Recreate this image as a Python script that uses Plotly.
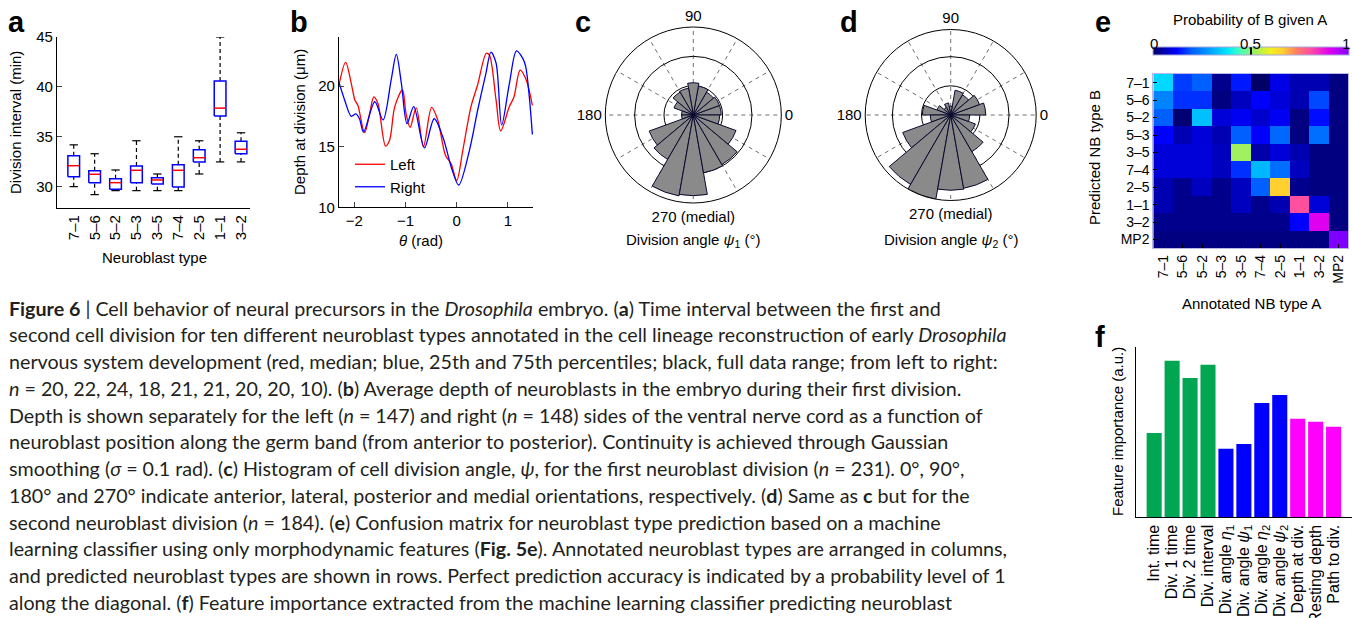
import plotly.graph_objects as go

W, H = 1353, 618
def fx(p): return p / W
def fy(p): return 1 - p / H

FONT = "Liberation Sans, Arial, Helvetica, sans-serif"
CAPFONT = "Lato, Open Sans, sans-serif"

# ---------------- Panel a data ----------------
nb_types_a = ["7–1", "5–6", "5–2", "5–3", "3–5", "7–4", "2–5", "1–1", "3–2"]
a_min = [30.0, 29.2, 29.6, 29.6, 29.6, 29.6, 31.27, 32.48, 32.48]
a_q1 = [31.0, 30.4, 29.73, 30.4, 30.27, 29.97, 32.48, 37.07, 33.3]
a_med = [32.1, 31.24, 30.4, 31.64, 30.67, 31.64, 32.9, 37.87, 33.75]
a_q3 = [33.1, 31.6, 30.8, 32.08, 30.9, 32.2, 33.7, 40.6, 34.56]
a_max = [34.19, 33.3, 31.67, 34.6, 31.27, 35.0, 34.6, 45.0, 35.4]

# ---------------- Panel b data ----------------
b_left_theta = [-2.305, -2.17, -2.06, -1.99, -1.93, -1.8, -1.7, -1.62, -1.54, -1.39, -1.31, -1.21,
                -1.06, -0.99, -0.91, -0.79, -0.65, -0.49, -0.37, -0.22, -0.11, 0.0, 0.12, 0.28,
                0.41, 0.58, 0.64, 0.77, 0.86, 1.03, 1.12, 1.24, 1.35, 1.48]
b_left_depth = [20.0, 21.95, 20.2, 18.85, 18.4, 16.15, 17.75, 19.1, 18.57, 15.05, 15.55, 18.3,
                19.67, 17.75, 16.6, 18.2, 15.0, 18.24, 17.2, 14.3, 13.6, 12.2, 14.7, 18.3,
                20.1, 22.7, 22.55, 18.85, 16.3, 18.3, 19.1, 21.3, 20.6, 18.4]
b_right_theta = [-2.305, -2.19, -2.06, -1.97, -1.9, -1.82, -1.6, -1.44, -1.28, -1.18, -1.08, -0.97,
                 -0.84, -0.63, -0.44, -0.27, -0.09, 0.04, 0.25, 0.41, 0.57, 0.67, 0.77, 0.88,
                 1.03, 1.17, 1.29, 1.35, 1.42, 1.48]
b_right_depth = [20.35, 18.85, 17.5, 17.7, 17.3, 16.2, 18.7, 17.2, 20.5, 22.6, 20.2, 16.9,
                 18.3, 14.9, 17.3, 15.8, 13.1, 11.84, 14.7, 18.0, 21.0, 22.8, 21.9, 16.8,
                 20.2, 22.9, 22.3, 21.6, 19.1, 16.0]

# ---------------- Panels c, d data ----------------
rose_theta = [10, 30, 50, 70, 90, 110, 130, 150, 170, 190, 210, 230, 250, 270, 290, 310, 330, 350]
c_counts = [9.5, 9.5, 9, 10, 11, 9.3, 9, 7, 4, 4, 16, 17.5, 28, 27.5, 20, 19.5, 15.5, 9]
d_counts = [12, 10.5, 8, 8.6, 3, 4.2, 3, 5, 9.7, 7, 17.5, 27.5, 29.3, 25.8, 25.5, 14.5, 9, 6.5]
angle_ticks = [0, 30, 60, 90, 120, 150, 180, 210, 240, 270, 300, 330]
angle_labels = ["0", " ", " ", "90", " ", " ", "180", " ", " ", "270 (medial)", " ", " "]

# ---------------- Panel e data ----------------
nb_types_e = ["7–1", "5–6", "5–2", "5–3", "3–5", "7–4", "2–5", "1–1", "3–2", "MP2"]
conf = [
    [0.36, 0.17, 0.20, 0.03, 0.14, 0.00, 0.10, 0.06, 0.06, 0.02],
    [0.25, 0.16, 0.16, 0.02, 0.07, 0.12, 0.09, 0.06, 0.18, 0.02],
    [0.20, 0.01, 0.33, 0.09, 0.11, 0.08, 0.11, 0.02, 0.13, 0.02],
    [0.12, 0.06, 0.09, 0.06, 0.20, 0.12, 0.21, 0.02, 0.22, 0.02],
    [0.09, 0.09, 0.09, 0.07, 0.52, 0.05, 0.09, 0.06, 0.02, 0.02],
    [0.09, 0.09, 0.09, 0.07, 0.16, 0.32, 0.22, 0.07, 0.02, 0.02],
    [0.06, 0.03, 0.07, 0.03, 0.07, 0.20, 0.66, 0.03, 0.02, 0.02],
    [0.06, 0.03, 0.03, 0.03, 0.07, 0.03, 0.06, 0.80, 0.09, 0.02],
    [0.03, 0.03, 0.03, 0.03, 0.03, 0.03, 0.03, 0.12, 0.90, 0.02],
    [0.02, 0.02, 0.02, 0.02, 0.02, 0.02, 0.02, 0.02, 0.02, 1.00],
]
cscale = [[0.0, "#000066"], [0.12, "#0000ff"], [0.2, "#0060ff"], [0.28, "#0098ff"],
          [0.38, "#00e8ff"], [0.44, "#40ffc0"], [0.52, "#a0f060"], [0.6, "#f0f020"],
          [0.66, "#ffd030"], [0.73, "#ff8060"], [0.8, "#ff50a0"], [0.9, "#e000f0"],
          [1.0, "#8000ff"]]

# ---------------- Panel f data ----------------
features = ["Int. time", "Div. 1 time", "Div. 2 time", "Div. interval",
            "Div. angle <i>η</i><sub>1</sub>", "Div. angle <i>ψ</i><sub>1</sub>",
            "Div. angle <i>η</i><sub>2</sub>", "Div. angle <i>ψ</i><sub>2</sub>",
            "Depth at div.", "Resting depth", "Path to div."]
importance = [25.3, 47.0, 41.8, 45.8, 20.6, 22.0, 34.3, 36.7, 29.6, 28.7, 27.2]
feat_colors = ["#00a651"] * 4 + ["#0000ff"] * 4 + ["#ff00ff"] * 3

fig = go.Figure()

# ---- a: box plots drawn from quartile arrays ----
bw, cw = 0.28, 0.2
wx, wy, cx, cy, bx, by, mx, my = [], [], [], [], [], [], [], []
for i in range(len(nb_types_a)):
    lo, q1, md, q3, hi = a_min[i], a_q1[i], a_med[i], a_q3[i], a_max[i]
    wx += [i, i, None, i, i, None]
    wy += [q3, hi, None, lo, q1, None]
    cx += [i - cw, i + cw, None, i - cw, i + cw, None]
    cy += [hi, hi, None, lo, lo, None]
    bx += [i - bw, i + bw, i + bw, i - bw, i - bw, None]
    by += [q1, q1, q3, q3, q1, None]
    mx += [i - bw, i + bw, None]
    my += [md, md, None]
fig.add_trace(go.Scatter(x=wx, y=wy, mode="lines", line=dict(color="black", width=1.2, dash="4px,3px"),
                         xaxis="x", yaxis="y", showlegend=False, hoverinfo="skip"))
fig.add_trace(go.Scatter(x=cx, y=cy, mode="lines", line=dict(color="black", width=1.2),
                         xaxis="x", yaxis="y", showlegend=False, hoverinfo="skip"))
fig.add_trace(go.Scatter(x=bx, y=by, mode="lines", line=dict(color="#0000ff", width=1.5),
                         xaxis="x", yaxis="y", showlegend=False, hoverinfo="skip"))
fig.add_trace(go.Scatter(x=mx, y=my, mode="lines", line=dict(color="#ff0000", width=1.5),
                         xaxis="x", yaxis="y", showlegend=False, hoverinfo="skip"))

# ---- b: depth curves ----
fig.add_trace(go.Scatter(x=b_left_theta, y=b_left_depth, mode="lines", name="Left",
                         line=dict(color="#ff0000", width=1.3, shape="spline", smoothing=0.9),
                         xaxis="x2", yaxis="y2"))
fig.add_trace(go.Scatter(x=b_right_theta, y=b_right_depth, mode="lines", name="Right",
                         line=dict(color="#0000ff", width=1.3, shape="spline", smoothing=0.9),
                         xaxis="x2", yaxis="y2"))

# ---- c, d: rose histograms ----
fig.add_trace(go.Barpolar(r=c_counts, theta=rose_theta, width=[20] * len(rose_theta),
                          marker=dict(color="#8a8a8a", line=dict(color="#0a0a30", width=1)),
                          subplot="polar", showlegend=False))
fig.add_trace(go.Barpolar(r=d_counts, theta=rose_theta, width=[20] * len(rose_theta),
                          marker=dict(color="#8a8a8a", line=dict(color="#0a0a30", width=1)),
                          subplot="polar2", showlegend=False))

# ---- e: confusion matrix ----
fig.add_trace(go.Heatmap(z=conf, x=nb_types_e, y=nb_types_e, colorscale=cscale, zmin=0, zmax=1,
                         xaxis="x3", yaxis="y3", showscale=True,
                         colorbar=dict(orientation="h", x=fx(1250.5), xanchor="center",
                                       y=fy(63.5), yanchor="bottom", len=195.6 / W, lenmode="fraction",
                                       thickness=8, thicknessmode="pixels", outlinewidth=1,
                                       outlinecolor="#a8a8d8", tickvals=[0.5], ticks="inside",
                                       ticklen=8, tickcolor="black", tickwidth=1.5,
                                       showticklabels=False, xpad=0, ypad=0)))

# ---- f: feature importance ----
fig.add_trace(go.Bar(x=list(range(len(features))), y=importance, marker=dict(color=feat_colors, line=dict(width=0)),
                     width=0.84, xaxis="x4", yaxis="y4", showlegend=False))

tickfont = dict(family=FONT, size=15, color="black")
hm_tickfont = dict(family=FONT, size=14, color="black")
f_tickfont = dict(family=FONT, size=16, color="black")
ax_common = dict(showgrid=False, zeroline=False, automargin=False, showline=True,
                 linecolor="black", linewidth=1.2)

polar_common_ang = dict(tickvals=angle_ticks, ticktext=angle_labels, showline=True, linecolor="black",
                        linewidth=1, gridcolor="#707070", griddash="4px,4px", gridwidth=1, ticks="",
                        tickfont=tickfont, direction="counterclockwise", rotation=0, layer="above traces")

fig.update_layout(
    width=W, height=H, margin=dict(l=0, r=0, t=0, b=0), template="none",
    paper_bgcolor="white", plot_bgcolor="rgba(0,0,0,0)",
    font=dict(family=FONT, size=15, color="black"),
    showlegend=True,
    legend=dict(x=fx(350), y=fy(148), xanchor="left", yanchor="top", bgcolor="rgba(0,0,0,0)",
                font=dict(family=FONT, size=15, color="black"), itemwidth=30, tracegroupgap=0),
    xaxis=dict(domain=[fx(57), fx(250)], range=[-0.8, 8.43], tickvals=list(range(len(nb_types_a))),
               ticktext=nb_types_a, tickangle=-90, ticks="", anchor="y", tickfont=tickfont, **ax_common),
    yaxis=dict(domain=[fy(208), fy(37)], range=[27.86, 45], tickvals=[30, 35, 40, 45], ticks="inside",
               ticklen=5, anchor="x", tickfont=tickfont, **ax_common),
    xaxis2=dict(domain=[fx(339), fx(533.4)], range=[-2.3, 1.5], tickvals=[-2, -1, 0, 1],
                ticktext=["−2", "−1", "0", "1"], ticks="inside", ticklen=5, anchor="y2",
                tickfont=tickfont, **ax_common),
    yaxis2=dict(domain=[fy(207.3), fy(37)], range=[10, 24.04], tickvals=[10, 15, 20], ticks="inside",
                ticklen=5, anchor="x2", tickfont=tickfont, **ax_common),
    xaxis3=dict(domain=[fx(1153.3), fx(1348.3)], type="category", tickmode="array", tickvals=nb_types_e,
                tickangle=-90, ticks="inside",
                ticklen=4, tickcolor="black", mirror=True, anchor="y3", showgrid=False, zeroline=False,
                automargin=False, showline=True, linecolor="#b8b8e8", linewidth=1, tickfont=hm_tickfont),
    yaxis3=dict(domain=[fy(248.3), fy(74)], type="category", tickmode="array", tickvals=nb_types_e,
                autorange="reversed", ticks="inside",
                ticklen=4, tickcolor="black", mirror=True, anchor="x3", showgrid=False, zeroline=False,
                automargin=False, showline=True, linecolor="#b8b8e8", linewidth=1, tickfont=hm_tickfont),
    xaxis4=dict(domain=[fx(1135.7), fx(1351.7)], range=[-1.03, 11.01], tickvals=list(range(len(features))),
                ticktext=features, tickangle=-90, ticks="", anchor="y4", tickfont=f_tickfont, **ax_common),
    yaxis4=dict(domain=[fy(517.3), fy(347.3)], range=[0, 51], showticklabels=False, ticks="",
                anchor="x4", **ax_common),
    polar=dict(domain=dict(x=[fx(605.3), fx(781.3)], y=[fy(203), fy(27)]), bgcolor="white",
               angularaxis=polar_common_ang,
               radialaxis=dict(range=[0, 30], tickvals=[10, 20], showticklabels=False, ticks="",
                               showline=False, gridcolor="black", gridwidth=1, layer="below traces")),
    polar2=dict(domain=dict(x=[fx(865.2), fx(1036.2)], y=[fy(200.5), fy(29.5)]), bgcolor="white",
                angularaxis=polar_common_ang,
                radialaxis=dict(range=[0, 29.3], tickvals=[10, 20], showticklabels=False, ticks="",
                                showline=False, gridcolor="black", gridwidth=1, layer="below traces")),
)

ann = []
def text(x, y, s, size=15, family=FONT, angle=0, xanchor="center", color="black"):
    ann.append(dict(x=fx(x), y=fy(y), xref="paper", yref="paper", text=s, showarrow=False,
                    xanchor=xanchor, yanchor="middle", textangle=angle,
                    font=dict(family=family, size=size, color=color)))

# panel letters
for lx, ly, lt in [(6, 22, "a"), (288, 22, "b"), (573, 22, "c"), (838, 22, "d"), (1093, 22, "e"), (1093, 337, "f")]:
    text(lx, ly, "<b>%s</b>" % lt, size=29, xanchor="left")

# axis titles
text(15, 123, "Division interval (min)", angle=-90)
text(154, 257, "Neuroblast type")
text(300, 122, "Depth at division (μm)", angle=-90)
text(421, 241, "<i>θ</i> (rad)")
text(693, 240, "Division angle <i>ψ</i><sub>1</sub> (°)")
text(951, 240, "Division angle <i>ψ</i><sub>2</sub> (°)")
text(1095, 158, "Predicted NB type B", angle=-90)
text(1251, 303, "Annotated NB type A")
text(1250, 19, "Probability of B given A")
text(1154, 43, "0")
text(1250, 43, "0.5")
text(1346, 43, "1")
text(1117, 432, "Feature importance (a.u.)", angle=-90)

caption = [
    "<b>Figure 6</b> | Cell behavior of neural precursors in the <i>Drosophila</i> embryo. (<b>a</b>) Time interval between the first and",
    "second cell division for ten different neuroblast types annotated in the cell lineage reconstruction of early <i>Drosophila</i>",
    "nervous system development (red, median; blue, 25th and 75th percentiles; black, full data range; from left to right:",
    "<i>n</i> = 20, 22, 24, 18, 21, 21, 20, 20, 10). (<b>b</b>) Average depth of neuroblasts in the embryo during their first division.",
    "Depth is shown separately for the left (<i>n</i> = 147) and right (<i>n</i> = 148) sides of the ventral nerve cord as a function of",
    "neuroblast position along the germ band (from anterior to posterior). Continuity is achieved through Gaussian",
    "smoothing (<i>σ</i> = 0.1 rad). (<b>c</b>) Histogram of cell division angle, <i>ψ</i>, for the first neuroblast division (<i>n</i> = 231). 0°, 90°,",
    "180° and 270° indicate anterior, lateral, posterior and medial orientations, respectively. (<b>d</b>) Same as <b>c</b> but for the",
    "second neuroblast division (<i>n</i> = 184). (<b>e</b>) Confusion matrix for neuroblast type prediction based on a machine",
    "learning classifier using only morphodynamic features (<b>Fig. 5e</b>). Annotated neuroblast types are arranged in columns,",
    "and predicted neuroblast types are shown in rows. Perfect prediction accuracy is indicated by a probability level of 1",
    "along the diagonal. (<b>f</b>) Feature importance extracted from the machine learning classifier predicting neuroblast",
]
for k, line in enumerate(caption):
    text(7, 308 + 26.75 * k, line, size=19.7, family=CAPFONT, xanchor="left", color="#231f20")

fig.update_layout(annotations=ann)
fig.write_html("out.html", config={"displayModeBar": False},
               post_script="document.body.style.margin='0px';document.body.style.overflow='hidden';")
